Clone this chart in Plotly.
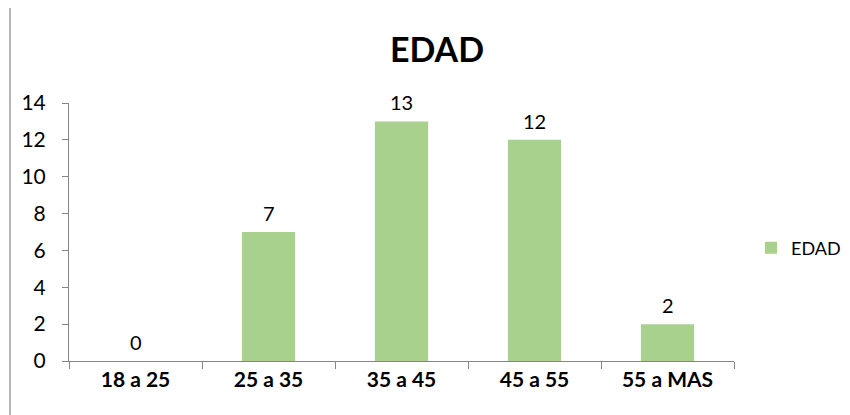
import plotly.graph_objects as go

categories = ["18 a 25", "25 a 35", "35 a 45", "45 a 55", "55 a MAS"]
values = [0, 7, 13, 12, 2]
series_name = "EDAD"
title_text = "EDAD"
y_ticks = [0, 2, 4, 6, 8, 10, 12, 14]

FONT = "Lato, Open Sans, sans-serif"
GREEN = "#A9D18E"
AXIS = "#868686"

fig = go.Figure()
fig.add_trace(go.Bar(
    x=categories, y=values, name=series_name,
    marker=dict(color=GREEN, line=dict(width=0)),
    width=0.4, showlegend=True,
))

for c, v in zip(categories, values):
    fig.add_annotation(x=c, y=v, text=str(v), showarrow=False,
                       yanchor="middle", yshift=19,
                       font=dict(family=FONT, size=20, color="#000000"))

# page body has an 8px default margin; work in screen coords and offset
OFF = 8
W, H = 850 - OFF, 415 - OFF
L, T = 69 - OFF, 103 - OFF
R = W - (734 - OFF)
B = H - (361 - OFF)
pw, ph = W - L - R, H - T - B

def px_x(x):
    return (x - OFF - L) / pw

def px_y(y):
    return (H - B - (y - OFF)) / ph

fig.add_shape(type="rect", xref="paper", yref="paper",
              x0=px_x(10), x1=px_x(880), y0=px_y(440), y1=px_y(6),
              line=dict(color=AXIS, width=1.2), fillcolor="rgba(0,0,0,0)", layer="below")

fig.update_layout(
    width=W, height=H,
    margin=dict(l=L, r=R, t=T, b=B, autoexpand=False),
    paper_bgcolor="white", plot_bgcolor="white",
    title=dict(text="<b>" + title_text + "</b>", x=(437 - OFF) / W, xref="container", xanchor="center",
               y=1 - 42 / H, yref="container", yanchor="middle",
               font=dict(family=FONT, size=34, color="#000000")),
    legend=dict(x=px_x(751), y=px_y(248), xanchor="left", yanchor="middle",
                font=dict(family=FONT, size=18, color="#000000"),
                bgcolor="rgba(0,0,0,0)", itemwidth=30),
    bargap=0.6,
    xaxis=dict(type="category", range=[-0.5, 4.5], showline=True, linecolor=AXIS, linewidth=1,
               ticks="outside", tickson="boundaries", ticklen=7, tickcolor=AXIS,
               showgrid=False, zeroline=False, automargin=False,
               tickfont=dict(family=FONT, size=21, color="#000000", weight="bold")),
    yaxis=dict(range=[0, 14], tickvals=y_ticks, showline=True, linecolor=AXIS, linewidth=1,
               ticks="outside", ticklen=6, tickcolor=AXIS, showgrid=False, zeroline=False,
               ticklabelstandoff=12, automargin=False,
               tickfont=dict(family=FONT, size=21, color="#000000")),
)

fig.write_html("out.html")
